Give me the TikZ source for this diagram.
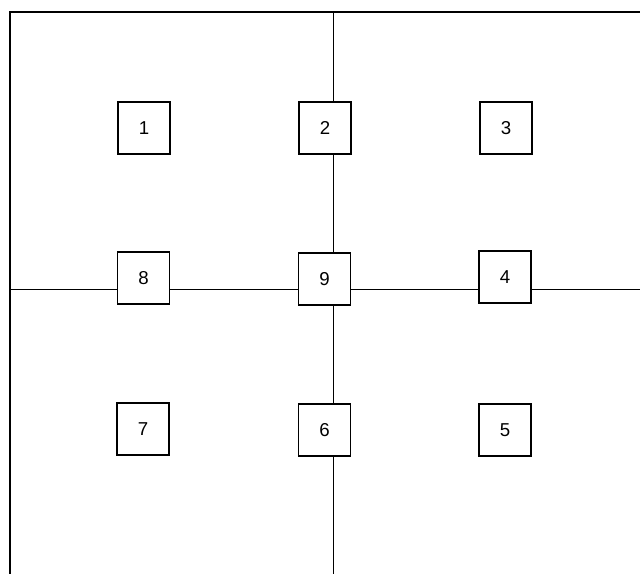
\documentclass[tikz,border=0pt]{standalone}
\usepackage{fontspec}
\setmainfont{Liberation Sans}

\tikzset{
  cell/.style={draw, fill=white, line width=0.9pt, minimum size=39pt, inner sep=0pt, font=\fontsize{14}{14}\selectfont},
  wall/.style={line width=0.8pt}
}

\begin{document}
\begin{tikzpicture}[x=0.75pt, y=-0.75pt]
\useasboundingbox (0,0) rectangle (640,574);
\coordinate (tl) at (10,12);
\coordinate (tr) at (640,12);
\coordinate (bl) at (10,574);
\coordinate (top) at (333.5,12);
\coordinate (bottom) at (333.5,574);
\coordinate (left) at (10,289.5);
\coordinate (right) at (640,289.5);
\draw[wall, line width=1.1pt] (bl) -- (tl) -- (tr);
\draw[wall] (top) -- (bottom);
\draw[wall] (left) -- (right);
\node[cell] (c1) at (144,128) {1};
\node[cell] (c2) at (325,128) {2};
\node[cell] (c3) at (506,128) {3};
\node[cell] (c8) at (143.5,278) {8};
\node[cell] (c9) at (324.5,279) {9};
\node[cell] (c4) at (505,277) {4};
\node[cell] (c7) at (143,429) {7};
\node[cell] (c6) at (324.5,430) {6};
\node[cell] (c5) at (505,430) {5};
\end{tikzpicture}
\end{document}
